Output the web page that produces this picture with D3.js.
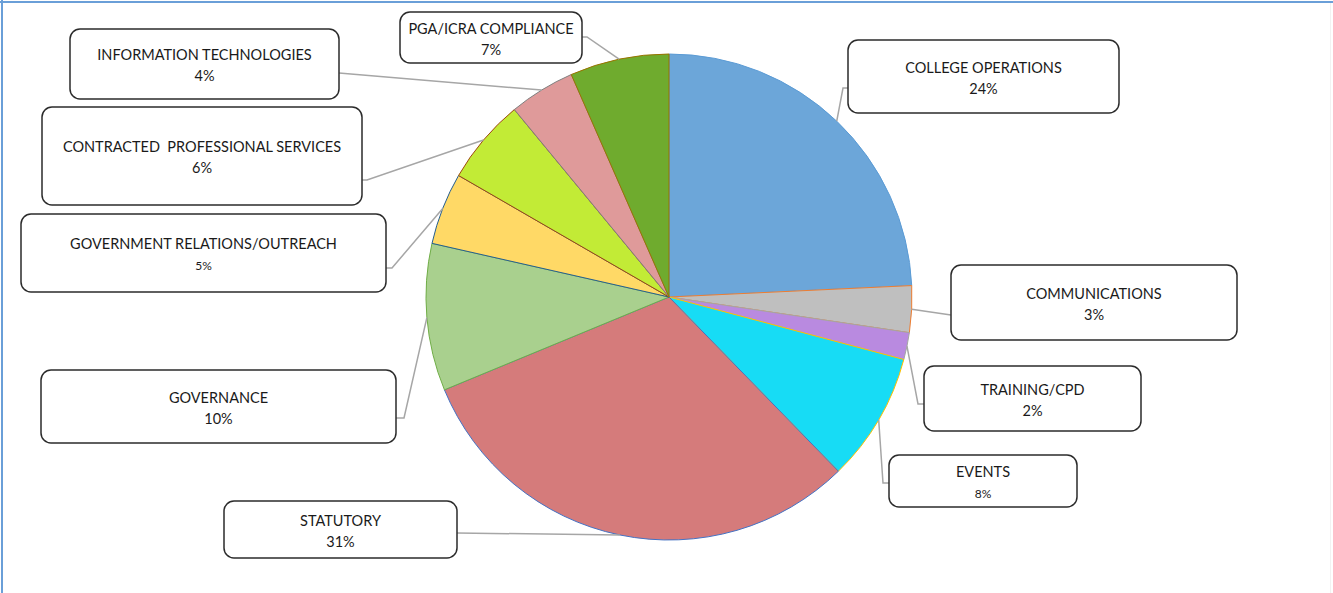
<!DOCTYPE html>
<html>
<head>
<meta charset="utf-8">
<script src="https://cdn.jsdelivr.net/npm/d3@7"></script>
<style>
	body { margin: 0; background: #fff; }
	svg { display: block; }
</style>
</head>
<body>
<div id="wrapper"></div>
<script>
// slices, clockwise from 12 o'clock
const categories = ["COLLEGE OPERATIONS", "COMMUNICATIONS", "TRAINING/CPD", "EVENTS", "STATUTORY",
	"GOVERNANCE", "GOVERNMENT RELATIONS/OUTREACH", "CONTRACTED  PROFESSIONAL SERVICES",
	"INFORMATION TECHNOLOGIES", "PGA/ICRA COMPLIANCE"];
const shares = [24.3, 3.1, 1.8, 8.6, 31.1, 9.8, 4.8, 5.7, 4.4, 6.6];
const pctLabels = ["24%", "3%", "2%", "8%", "31%", "10%", "5%", "6%", "4%", "7%"];

const fills = ["#6ca6d9", "#bfbfbf", "#b98ae0", "#17dcf5", "#d57b7b", "#a9d08e", "#ffd966", "#c2eb36", "#df9a9a", "#6fab2e"];
const strokes = ["#5b9bd5", "#ed7d31", "#a5a5a5", "#ffc000", "#4472c4", "#70ad47", "#255e91", "#9e480e", "#7f7f7f", "#997300"];

// label boxes: x, y, w, h, side the leader leaves from, leader y, elbow x, small pct
const boxes = [
	{x: 848, y: 40, w: 271, h: 73, side: "left", ly: 88, ex: 843},
	{x: 951, y: 265, w: 286, h: 75, side: "left", ly: 315, ex: 951},
	{x: 924, y: 366, w: 217, h: 65, side: "left", ly: 404, ex: 918},
	{x: 889, y: 455, w: 188, h: 52, side: "left", ly: 483, ex: 883, small: true},
	{x: 224, y: 501, w: 233, h: 57, side: "right", ly: 533, ex: 457},
	{x: 41, y: 370, w: 355, h: 73, side: "right", ly: 418, ex: 404},
	{x: 21, y: 214, w: 365, h: 78, side: "right", ly: 268, ex: 392, small: true},
	{x: 42, y: 107, w: 320, h: 98, side: "right", ly: 180, ex: 367},
	{x: 70, y: 29, w: 269, h: 70, side: "right", ly: 73, ex: 339},
	{x: 400, y: 12, w: 182, h: 51, side: "right", ly: 37, ex: 587}
];

const width = 1333;
const height = 593;
const cx = 669, cy = 297, radius = 243;

const svg = d3.select("#wrapper").append("svg")
	.attr("width", width)
	.attr("height", height);

// frame
svg.append("line").attr("x1", 0).attr("x2", width).attr("y1", 2).attr("y2", 2)
	.attr("stroke", "#6a9fd8").attr("stroke-width", 2);
svg.append("line").attr("x1", 2).attr("x2", 2).attr("y1", 0).attr("y2", height)
	.attr("stroke", "#6a9fd8").attr("stroke-width", 2);
svg.append("line").attr("x1", 1330.5).attr("x2", 1330.5).attr("y1", 3).attr("y2", height)
	.attr("stroke", "#f2f2f2").attr("stroke-width", 1);

const data = categories.map((c, i) => ({name: c, value: shares[i], pct: pctLabels[i], i: i}));

const pie = d3.pie().sort(null).value(d => d.value);
const arcs = pie(data);
const arcGen = d3.arc().innerRadius(0).outerRadius(radius);

const pieG = svg.append("g").attr("transform", `translate(${cx},${cy})`);
pieG.selectAll("path")
	.data(arcs)
	.join("path")
	.attr("d", arcGen)
	.attr("fill", d => fills[d.data.i])
	.attr("stroke", d => strokes[d.data.i])
	.attr("stroke-width", 1)
	.attr("stroke-linejoin", "round");

// leader lines
const leaders = svg.append("g");
arcs.forEach(a => {
	const b = boxes[a.data.i];
	const mid = (a.startAngle + a.endAngle) / 2;
	const px = cx + radius * Math.sin(mid);
	const py = cy - radius * Math.cos(mid);
	const bx = b.side === "left" ? b.x : b.x + b.w;
	leaders.append("polyline")
		.attr("points", `${bx},${b.ly} ${b.ex},${b.ly} ${px},${py}`)
		.attr("fill", "none")
		.attr("stroke", "#a6a6a6")
		.attr("stroke-width", 1.5);
});

// label boxes
const labelG = svg.append("g");
arcs.forEach(a => {
	const b = boxes[a.data.i];
	const g = labelG.append("g");
	g.append("rect")
		.attr("x", b.x).attr("y", b.y)
		.attr("width", b.w).attr("height", b.h)
		.attr("rx", 10).attr("ry", 10)
		.attr("fill", "#fff")
		.attr("stroke", "#2b2b2b")
		.attr("stroke-width", 1.5);
	const mx = b.x + b.w / 2;
	const my = b.y + b.h / 2;
	g.append("text")
		.attr("x", mx).attr("y", my - 4)
		.attr("text-anchor", "middle")
		.style("font-family", "Lato, 'Open Sans', sans-serif")
		.style("font-size", "14.5px")
		.attr("fill", "#1a1a1a")
		.style("white-space", "pre")
		.text(a.data.name);
	g.append("text")
		.attr("x", mx).attr("y", my + 17)
		.attr("text-anchor", "middle")
		.style("font-family", "Lato, 'Open Sans', sans-serif")
		.style("font-size", b.small ? "12px" : "14.5px")
		.attr("fill", "#1a1a1a")
		.text(a.data.pct);
});
</script>
</body>
</html>
